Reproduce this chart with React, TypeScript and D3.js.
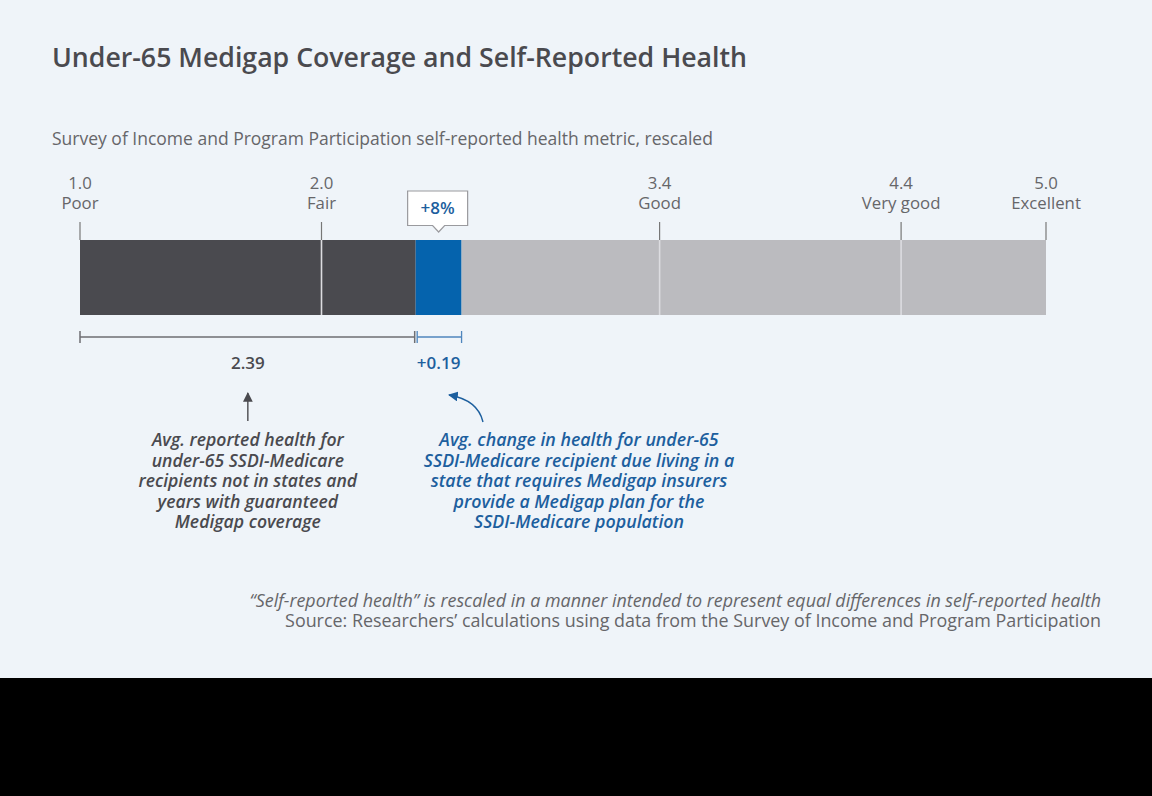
import React from 'react';
import * as d3 from 'd3';

// scale stops of the rescaled self-reported health metric
const scaleValues = [1.0, 2.0, 3.4, 4.4, 5.0];
const scaleNames = ['Poor', 'Fair', 'Good', 'Very good', 'Excellent'];

// bar segments: baseline average, the Medigap effect, and the rest of the scale
const segStarts = [1.0, 2.39, 2.58];
const segEnds = [2.39, 2.58, 5.0];
const segKinds = ['base', 'effect', 'rest'];

const baseValue = 2.39;
const effectValue = 0.19;
const effectPct = '+8%';

const baseNote = [
  'Avg. reported health for',
  'under-65 SSDI-Medicare',
  'recipients not in states and',
  'years with guaranteed',
  'Medigap coverage',
];
const effectNote = [
  'Avg. change in health for under-65',
  'SSDI-Medicare recipient due living in a',
  'state that requires Medigap insurers',
  'provide a Medigap plan for the',
  'SSDI-Medicare population',
];

const W = 1152;
const H = 796;
const FONT = '"Open Sans", "Noto Sans", sans-serif';

const BG = '#eff4f9';
const DARK = '#4a4a4f';
const BLUE = '#0563ad';
const GREY = '#bbbbbf';
const TEXT = '#666669';
const BLUE_TEXT = '#1d5f9e';

export default function App() {
  const x = d3.scaleLinear().domain([1, 5]).range([80, 1046]);
  const barTop = 240;
  const barBottom = 315;

  const fill = (k: string) => (k === 'base' ? DARK : k === 'effect' ? BLUE : GREY);

  const xb = x(baseValue);
  const xe = x(baseValue + effectValue);
  const xCall = (xb + xe) / 2;

  const bracketY = 337;
  const noteBaseX = x(1) + (xb - x(1)) / 2;
  const noteEffX = 579;

  const arrowCurve = d3.path();
  arrowCurve.moveTo(483, 422);
  arrowCurve.quadraticCurveTo(478, 400, 449, 395);

  return (
    <svg
      width={W}
      height={H}
      style={{ position: 'absolute', left: 0, top: 0 }}
      fontFamily={FONT}
    >
      <defs>
        <marker id="headGrey" viewBox="0 0 10 10" refX="9" refY="5" markerWidth="7" markerHeight="7" orient="auto">
          <path d="M0,0 L10,5 L0,10 Z" fill={DARK} />
        </marker>
        <marker id="headBlue" viewBox="0 0 10 10" refX="9" refY="5" markerWidth="7" markerHeight="7" orient="auto">
          <path d="M0,0 L10,5 L0,10 Z" fill={BLUE_TEXT} />
        </marker>
      </defs>
      <rect width={W} height={678} fill={BG} />
      <rect y={678} width={W} height={H - 678} fill="#000" />

      <text x={52} y={67} fontSize={26.7} fontWeight={600} fill={DARK}>
        Under-65 Medigap Coverage and Self-Reported Health
      </text>
      <text x={52} y={145} fontSize={17.5} fill={TEXT}>
        Survey of Income and Program Participation self-reported health metric, rescaled
      </text>

      {/* bar segments */}
      {segStarts.map((s, i) => (
        <rect
          key={segKinds[i]}
          x={x(s)}
          y={barTop}
          width={x(segEnds[i]) - x(s)}
          height={barBottom - barTop}
          fill={fill(segKinds[i])}
        />
      ))}

      {/* scale ticks */}
      {scaleValues.map((v, i) => {
        const inner = i > 0 && i < scaleValues.length - 1;
        return (
          <g key={v}>
            <line x1={x(v)} x2={x(v)} y1={222} y2={barTop} stroke="#777" strokeWidth={1.2} />
            {inner && (
              <line x1={x(v)} x2={x(v)} y1={barTop} y2={barBottom} stroke="#dcdce0" strokeWidth={1.6} />
            )}
            <text x={x(v)} y={189} textAnchor="middle" fontSize={16.8} fill={TEXT}>
              {v.toFixed(1)}
            </text>
            <text x={x(v)} y={209} textAnchor="middle" fontSize={16.8} fill={TEXT}>
              {scaleNames[i]}
            </text>
          </g>
        );
      })}

      {/* callout */}
      <path
        d={`M${xCall - 31},191 H${xCall + 29} V225.5 H${xCall + 6} L${xCall},232 L${xCall - 6},225.5 H${xCall - 31} Z`}
        fill="#fff"
        stroke="#9a9a9e"
        strokeWidth={1.2}
      />
      <text x={xCall - 1} y={214} textAnchor="middle" fontSize={17} fontWeight={600} fill={BLUE_TEXT}>
        {effectPct}
      </text>

      {/* brackets */}
      <g stroke="#6e6e72" strokeWidth={1.5}>
        <line x1={x(1)} x2={xb - 1} y1={bracketY} y2={bracketY} />
        <line x1={x(1)} x2={x(1)} y1={bracketY - 6} y2={bracketY + 6} />
        <line x1={xb - 1} x2={xb - 1} y1={bracketY - 6} y2={bracketY + 6} />
      </g>
      <g stroke="#4f86bd" strokeWidth={1.3}>
        <line x1={xb + 1.5} x2={xe} y1={bracketY} y2={bracketY} />
        <line x1={xb + 1.5} x2={xb + 1.5} y1={bracketY - 6} y2={bracketY + 6} />
        <line x1={xe} x2={xe} y1={bracketY - 6} y2={bracketY + 6} />
      </g>
      <text x={noteBaseX} y={369} textAnchor="middle" fontSize={17} fontWeight={600} fill={DARK}>
        {baseValue.toFixed(2)}
      </text>
      <text x={xCall} y={369} textAnchor="middle" fontSize={17} fontWeight={600} fill={BLUE_TEXT}>
        {'+' + effectValue.toFixed(2)}
      </text>

      {/* arrows */}
      <line x1={noteBaseX} x2={noteBaseX} y1={421} y2={393} stroke={DARK} strokeWidth={1.4} markerEnd="url(#headGrey)" />
      <path d={arrowCurve.toString()} fill="none" stroke={BLUE_TEXT} strokeWidth={1.4} markerEnd="url(#headBlue)" />

      {/* notes */}
      {baseNote.map((l, i) => (
        <text key={l} x={noteBaseX} y={446 + i * 20.6} textAnchor="middle" fontSize={17.6} fontStyle="italic" fontWeight={600} fill={DARK}>
          {l}
        </text>
      ))}
      {effectNote.map((l, i) => (
        <text key={l} x={noteEffX} y={446 + i * 20.6} textAnchor="middle" fontSize={17.8} fontStyle="italic" fontWeight={600} fill={BLUE_TEXT}>
          {l}
        </text>
      ))}

      {/* footnotes */}
      <text x={1101} y={607} textAnchor="end" fontSize={17.9} fontStyle="italic" fill={TEXT}>
        “Self-reported health” is rescaled in a manner intended to represent equal differences in self-reported health
      </text>
      <text x={1101} y={627} textAnchor="end" fontSize={17.9} fill={TEXT}>
        Source: Researchers’ calculations using data from the Survey of Income and Program Participation
      </text>
    </svg>
  );
}
